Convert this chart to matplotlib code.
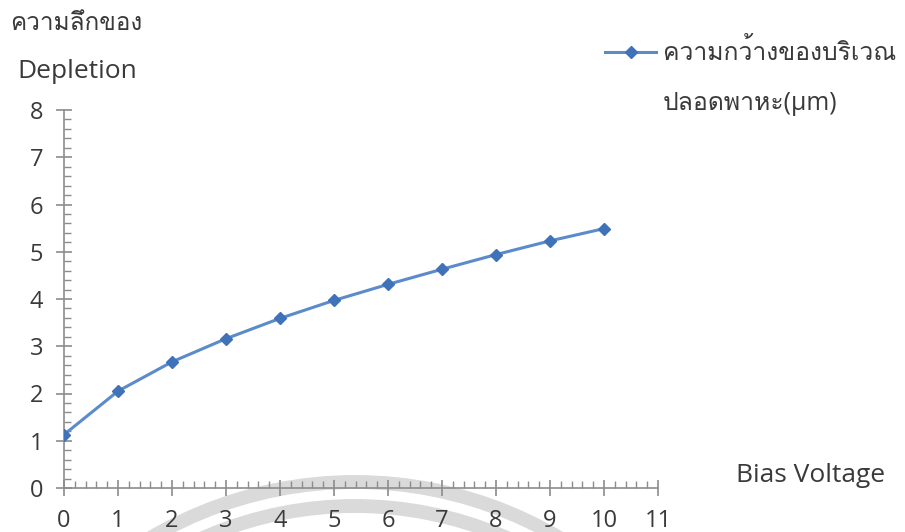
import matplotlib
matplotlib.use("Agg")
import matplotlib.pyplot as plt
from matplotlib import font_manager as fm
from matplotlib.patches import Arc
from matplotlib.transforms import IdentityTransform
from matplotlib.ticker import MultipleLocator

# ---- data ----
bias_voltage = [0, 1, 2, 3, 4, 5, 6, 7, 8, 9, 10]
depletion_width = [1.13, 2.05, 2.67, 3.16, 3.59, 3.97, 4.31, 4.63, 4.94, 5.23, 5.49]
x_ticks = [0, 1, 2, 3, 4, 5, 6, 7, 8, 9, 10, 11]
y_ticks = [0, 1, 2, 3, 4, 5, 6, 7, 8]
y_title_th = "ความลึกของ"
y_title_en = "Depletion"
x_title = "Bias Voltage"
legend_label = "ความกว้างของบริเวณ\nปลอดพาหะ(μm)"

# find a font with Thai glyphs
thai_font = None
try:
    from fontTools.ttLib import TTFont
    for f in fm.fontManager.ttflist:
        try:
            cmap = TTFont(f.fname, fontNumber=0, lazy=True).getBestCmap()
            if cmap and 0x0E04 in cmap and 0x0E49 in cmap:
                thai_font = f.name
                break
        except Exception:
            pass
except Exception:
    pass
fams = ["Open Sans"] + ([thai_font] if thai_font else []) + ["DejaVu Sans"]
plt.rcParams["font.family"] = fams

W, H = 905, 532
fig = plt.figure(figsize=(W / 100, H / 100), dpi=100)
ax = fig.add_axes([64 / W, 1 - 488 / H, (658 - 64) / W, (488 - 110) / H])
ax.patch.set_visible(False)

line_color = "#5B8BCB"
marker_color = "#3F72B8"
ax.plot(bias_voltage, depletion_width, color=line_color, lw=2.2,
        marker="D", ms=6.5, mfc=marker_color, mec=marker_color, zorder=3)

ax.set_xlim(0, 11)
ax.set_ylim(0, 8)
ax.set_xticks(x_ticks)
ax.set_yticks(y_ticks)
ax.xaxis.set_minor_locator(MultipleLocator(0.2))
ax.yaxis.set_minor_locator(MultipleLocator(0.2))
for s in ["top", "right"]:
    ax.spines[s].set_visible(False)
axis_col = "#8C8C8C"
for s in ["left", "bottom"]:
    ax.spines[s].set_color(axis_col)
    ax.spines[s].set_linewidth(1.2)
ax.tick_params(which="major", direction="inout", length=12, width=1.2, color=axis_col,
               labelsize=17, labelcolor="#3A3A3A")
ax.tick_params(which="minor", direction="in", length=5, width=1.0, color=axis_col)
ax.tick_params(axis="x", which="major", pad=9)
ax.tick_params(axis="y", which="major", pad=9)

txt_col = "#3A3A3A"
fig.text(10 / W, 1 - 24 / H, y_title_th, fontsize=17.5, color=txt_col, ha="left", va="center")
fig.text(17 / W, 1 - 71 / H, y_title_en, fontsize=19, color=txt_col, ha="left", va="center")
fig.text(736 / W, 1 - 476 / H, x_title, fontsize=19, color=txt_col, ha="left", va="center")

# legend
lx0, lx1, ly = 605, 656, 52
fig.add_artist(plt.Line2D([lx0 / W, lx1 / W], [1 - ly / H, 1 - ly / H], color=line_color, lw=2.2,
                          transform=fig.transFigure))
fig.add_artist(plt.Line2D([(lx0 + lx1) / 2 / W], [1 - ly / H], marker="D", ms=6.5,
                          mfc=marker_color, mec=marker_color, transform=fig.transFigure))
fig.text(663 / W, 1 - ly / H, legend_label.split("\n")[0], fontsize=17.8, color=txt_col,
         ha="left", va="center")
fig.text(663 / W, 1 - 103 / H, legend_label.split("\n")[1], fontsize=17.8, color=txt_col,
         ha="left", va="center")

# watermark rings
for r in (402, 378):
    fig.add_artist(Arc((355, H - 884), 2 * r, 2 * r, theta1=0, theta2=180,
                       transform=IdentityTransform(), color="#DADADA", lw=10, zorder=-1))

fig.savefig("out.png", dpi=100, facecolor="white")
